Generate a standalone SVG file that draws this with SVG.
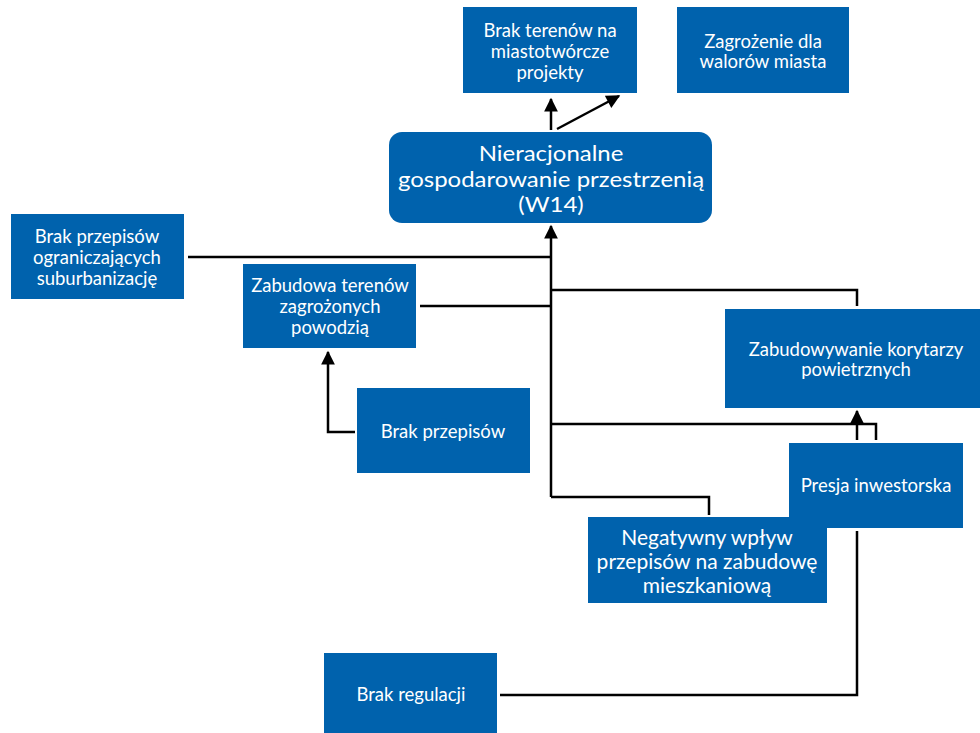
<svg xmlns="http://www.w3.org/2000/svg" width="980" height="733" viewBox="0 0 980 733">
<defs>
<style>
.box{fill:#0062ad;}
.t{font-family:Lato,"Open Sans","Liberation Sans",sans-serif;fill:#ffffff;text-anchor:middle;font-size:18.5px;}
.tb{font-size:22px;}
.tm{font-size:21px;}
.c{fill:none;stroke:#000;stroke-width:2.5;}
</style>
<marker id="ah" viewBox="0 0 10 10" refX="9" refY="5" markerWidth="6" markerHeight="5.5" orient="auto" markerUnits="strokeWidth">
<path d="M0,0 L10,5 L0,10 z" fill="#000"/>
</marker>
</defs>
<rect width="980" height="733" fill="#fff"/>
<g id="connectors">
<path class="c" d="M551,497 V226" marker-end="url(#ah)"/>
<path class="c" d="M188,257 H551"/>
<path class="c" d="M420,306 H551"/>
<path class="c" d="M551,290 H857 V306"/>
<path class="c" d="M551,424 H876 V440"/>
<path class="c" d="M857,440 V411" marker-end="url(#ah)"/>
<path class="c" d="M551,497 H709 V515"/>
<path class="c" d="M355,432 H328 V352" marker-end="url(#ah)"/>
<path class="c" d="M500,695 H857 V531"/>
<path class="c" d="M551,130 V99" marker-end="url(#ah)"/>
<path class="c" d="M557,129 L619,96" marker-end="url(#ah)"/>
</g>
<g id="n_brak_terenow">
<rect class="box" x="463" y="7" width="174" height="86"/>
<text class="t" x="550" y="37">Brak terenów na</text>
<text class="t" x="550" y="58">miastotwórcze</text>
<text class="t" x="550" y="79">projekty</text>
</g>
<g id="n_zagrozenie">
<rect class="box" x="677" y="7" width="172" height="86"/>
<text class="t" x="763" y="48">Zagrożenie dla</text>
<text class="t" x="763" y="68">walorów miasta</text>
</g>
<g id="n_central">
<rect class="box" x="389" y="132" width="323" height="91" rx="13" ry="13"/>
<g transform="translate(551,0) scale(1.09,1)">
<text class="t tb" x="0" y="161">Nieracjonalne</text>
<text class="t tb" x="0" y="187">gospodarowanie przestrzenią</text>
<text class="t tb" x="0" y="212">(W14)</text>
</g>
</g>
<g id="n_brak_przepisow_ogr">
<rect class="box" x="11" y="214" width="173" height="85"/>
<text class="t" x="97" y="243">Brak przepisów</text>
<text class="t" x="97" y="264">ograniczających</text>
<text class="t" x="97" y="285">suburbanizację</text>
</g>
<g id="n_zabudowa_terenow">
<rect class="box" x="243" y="264" width="173" height="84"/>
<text class="t" x="330" y="292">Zabudowa terenów</text>
<text class="t" x="330" y="313">zagrożonych</text>
<text class="t" x="330" y="334">powodzią</text>
</g>
<g id="n_brak_przepisow">
<rect class="box" x="357" y="388" width="173" height="85"/>
<text class="t" x="443" y="438">Brak przepisów</text>
</g>
<g id="n_zabudowywanie">
<rect class="box" x="725" y="309" width="255" height="99"/>
<text class="t" x="856" y="356">Zabudowywanie korytarzy</text>
<text class="t" x="856" y="376">powietrznych</text>
</g>
<g id="n_presja">
<rect class="box" x="789" y="443" width="174" height="85"/>
<text class="t" x="876" y="492">Presja inwestorska</text>
</g>
<g id="n_negatywny">
<rect class="box" x="588" y="517" width="239" height="86"/>
<text class="t tm" x="707" y="545">Negatywny wpływ</text>
<text class="t tm" x="707" y="569">przepisów na zabudowę</text>
<text class="t tm" x="707" y="593">mieszkaniową</text>
</g>
<g id="n_brak_regulacji">
<rect class="box" x="324" y="653" width="173" height="80"/>
<text class="t" x="411" y="701">Brak regulacji</text>
</g>
</svg>
